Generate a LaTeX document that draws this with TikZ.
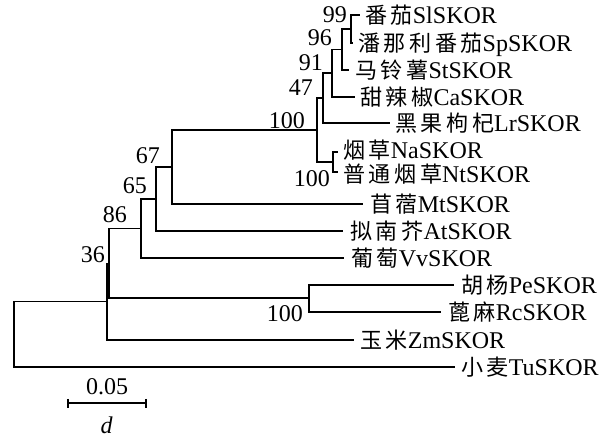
\documentclass[tikz,border=0pt]{standalone}
\usepackage{fontspec}
\setmainfont{Liberation Serif}
\newfontfamily\cjk[LetterSpace=16,Scale=0.92]{Noto Sans CJK SC}
\begin{document}
\begin{tikzpicture}[x=1pt,y=-1pt,
  br/.style={line width=1.8pt,line join=miter},
  lab/.style={anchor=base west,inner sep=0pt,font=\fontsize{24}{28}\selectfont},
  bs/.style={anchor=base east,inner sep=0pt,font=\fontsize{24}{28}\selectfont}]
\useasboundingbox (0,0) rectangle (616,439);
% internal nodes
\coordinate (n99) at (350.7,29);
\coordinate (n96) at (342,49.5);
\coordinate (n91) at (331.7,73.2);
\coordinate (n47) at (323,98);
\coordinate (nNa) at (333,162);
\coordinate (nSol) at (317,130);
\coordinate (n67) at (172,167);
\coordinate (n65) at (156,199);
\coordinate (n86) at (141,228.5);
\coordinate (nPR) at (309.3,298.3);
\coordinate (n36) at (109,263.4);
\coordinate (nZ) at (107,301.5);
\coordinate (root) at (14.3,334);
% leaf tips
\coordinate (tSl) at (360,15);
\coordinate (tSp) at (353,43);
\coordinate (tSt) at (349,70);
\coordinate (tCa) at (355,97);
\coordinate (tLr) at (390,123);
\coordinate (tNa) at (338,152);
\coordinate (tNt) at (338,172);
\coordinate (tMt) at (363,204);
\coordinate (tAt) at (343,231);
\coordinate (tVv) at (344,258);
\coordinate (tPe) at (454,285);
\coordinate (tRc) at (441,311.7);
\coordinate (tZm) at (354,339.7);
\coordinate (tTu) at (455,366.7);
% leaf labels
\node[lab] (Sl) at (365,23.5) {{\cjk 番茄}SlSKOR};
\node[lab] (Sp) at (358,51.5) {{\cjk 潘那利番茄}SpSKOR};
\node[lab] (St) at (355,78.5) {{\cjk 马铃薯}StSKOR};
\node[lab] (Ca) at (360,105.5) {{\cjk 甜辣椒}CaSKOR};
\node[lab] (Lr) at (395,131.5) {{\cjk 黑果枸杞}LrSKOR};
\node[lab] (Na) at (343,158.5) {{\cjk 烟草}NaSKOR};
\node[lab] (Nt) at (343,182.5) {{\cjk 普通烟草}NtSKOR};
\node[lab] (Mt) at (370,212.5) {{\cjk 苜蓿}MtSKOR};
\node[lab] (At) at (350,239.5) {{\cjk 拟南芥}AtSKOR};
\node[lab] (Vv) at (351,266.5) {{\cjk 葡萄}VvSKOR};
\node[lab] (Pe) at (461,293.5) {{\cjk 胡杨}PeSKOR};
\node[lab] (Rc) at (448,320.2) {{\cjk 蓖麻}RcSKOR};
\node[lab] (Zm) at (360,348.2) {{\cjk 玉米}ZmSKOR};
\node[lab] (Tu) at (461,375.2) {{\cjk 小麦}TuSKOR};
% branches
\draw[br] (n99) |- (tSl); \draw[br] (n99) |- (tSp);
\draw[br] (n96) |- (n99); \draw[br] (n96) |- (tSt);
\draw[br] (n91) |- (n96); \draw[br] (n91) |- (tCa);
\draw[br] (n47) |- (n91); \draw[br] (n47) |- (tLr);
\draw[br] (nNa) |- (tNa); \draw[br] (nNa) |- (tNt);
\draw[br] (nSol) |- (n47); \draw[br] (nSol) |- (nNa);
\draw[br] (n67) |- (nSol); \draw[br] (n67) |- (tMt);
\draw[br] (n65) |- (n67); \draw[br] (n65) |- (tAt);
\draw[br] (n86) |- (n65); \draw[br] (n86) |- (tVv);
\draw[br] (nPR) |- (tPe); \draw[br] (nPR) |- (tRc);
\draw[br] (n36) |- (n86); \draw[br] (n36) |- (nPR);
\draw[br] (nZ) |- (n36); \draw[br] (nZ) |- (tZm);
\draw[br] (root) |- (nZ); \draw[br] (root) |- (tTu);
% bootstrap values
\node[bs] (b99) at (347,22) {99};
\node[bs] (b96) at (332,45) {96};
\node[bs] (b91) at (323,70) {91};
\node[bs] (b47) at (313,95) {47};
\node[bs] (bSol) at (305,128) {100};
\node[bs] (bNa) at (330,186) {100};
\node[bs] (b67) at (160,163) {67};
\node[bs] (b65) at (147,193) {65};
\node[bs] (b86) at (127,222) {86};
\node[bs] (b36) at (105,262) {36};
\node[bs] (bPR) at (303,321.7) {100};
% scale bar
\coordinate (s1) at (68.3,403.3);
\coordinate (s2) at (146,403.3);
\draw[line width=1.8pt] (s1) -- (s2);
\draw[line width=1.8pt] ([yshift=4.5pt]s1) -- ([yshift=-4.5pt]s1);
\draw[line width=1.8pt] ([yshift=4.5pt]s2) -- ([yshift=-4.5pt]s2);
\node[anchor=base,inner sep=0pt,font=\fontsize{24}{28}\selectfont] (sv) at (107,394) {0.05};
\node[anchor=base,inner sep=0pt,font=\fontsize{24}{28}\selectfont] (sd) at (106.7,433) {\textit{d}};
\end{tikzpicture}
\end{document}
